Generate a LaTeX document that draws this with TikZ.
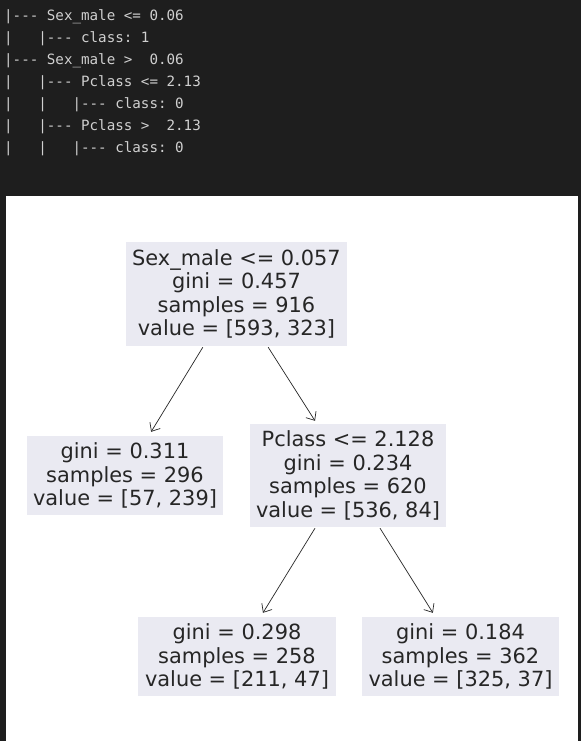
\documentclass[tikz,border=0pt]{standalone}
\usepackage{fontspec}
\setmainfont{DejaVu Sans}
\setmonofont{DejaVu Sans Mono}
\usetikzlibrary{arrows.meta,calc}
\definecolor{bg}{HTML}{1E1E1E}
\definecolor{termtext}{HTML}{D0D0D0}
\definecolor{boxfill}{HTML}{EAEAF2}
\definecolor{ink}{HTML}{262626}
\begin{document}
\begin{tikzpicture}[x=1pt,y=-1pt,
  term/.style={anchor=base west, inner sep=0pt, text=termtext, font=\ttfamily\frenchspacing\fontsize{14.2}{16}\selectfont},
  treenode/.style={fill=boxfill, text=ink, align=center, inner sep=0pt, font=\fontsize{20.9}{23.5}\selectfont},
  leafsize/.style={minimum width=#1, minimum height=79pt},
  edge/.style={draw=ink, line width=0.7pt, -{Straight Barb[length=7pt,width=12pt]}}
]
\useasboundingbox (0,0) rectangle (581,741);
\fill[bg] (0,0) rectangle (581,741);
\fill[white] (6,196) rectangle (578,741);

\node[term] (t1) at (4,20.5) {|-{}-{}-~Sex\_male~<=~0.06};
\node[term] (t2) at (4,42.5) {|~~~|-{}-{}-~class:~1};
\node[term] (t3) at (4,64.5) {|-{}-{}-~Sex\_male~>~~0.06};
\node[term] (t4) at (4,86.5) {|~~~|-{}-{}-~Pclass~<=~2.13};
\node[term] (t5) at (4,108.5) {|~~~|~~~|-{}-{}-~class:~0};
\node[term] (t6) at (4,130.5) {|~~~|-{}-{}-~Pclass~>~~2.13};
\node[term] (t7) at (4,152.5) {|~~~|~~~|-{}-{}-~class:~0};

\node[treenode, minimum width=221pt, minimum height=104pt] (root) at (236.5,294)
  {Sex\_male <= 0.057\\gini = 0.457\\samples = 916\\value = [593, 323]};
\node[treenode, leafsize=196pt] (left) at (125,475.5)
  {gini = 0.311\\samples = 296\\value = [57, 239]};
\node[treenode, minimum width=196pt, minimum height=103pt] (pc) at (348,475.5)
  {Pclass <= 2.128\\gini = 0.234\\samples = 620\\value = [536, 84]};
\node[treenode, leafsize=198pt] (bl) at (237,656.5)
  {gini = 0.298\\samples = 258\\value = [211, 47]};
\node[treenode, leafsize=197pt] (br) at (460.5,656.5)
  {gini = 0.184\\samples = 362\\value = [325, 37]};

\draw[edge] ($(root.south west)!0.348!(root.south east)+(0,1)$) -- ($(left.north west)!0.633!(left.north east)+(0,-4)$);
\draw[edge] ($(root.south west)!0.643!(root.south east)+(0,1)$) -- ($(pc.north west)!0.332!(pc.north east)+(0,-3)$);
\draw[edge] ($(pc.south west)!0.332!(pc.south east)+(0,1)$) -- ($(bl.north west)!0.631!(bl.north east)+(0,-4)$);
\draw[edge] ($(pc.south west)!0.663!(pc.south east)+(0,1)$) -- ($(br.north west)!0.36!(br.north east)+(0,-4)$);
\end{tikzpicture}
\end{document}
